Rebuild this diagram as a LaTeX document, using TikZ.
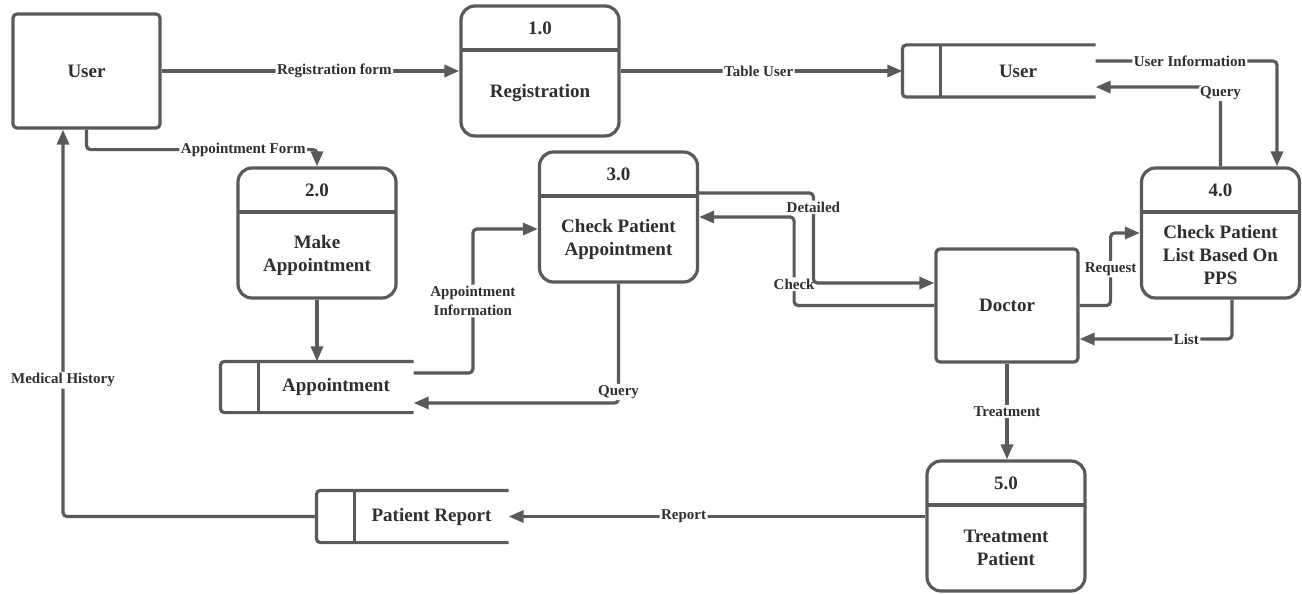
\documentclass[tikz,border=0pt]{standalone}
\usepackage{fontspec}
\setmainfont{Liberation Serif}
\usetikzlibrary{arrows.meta}

\definecolor{linegray}{HTML}{5A5A5A}
\definecolor{inkgray}{HTML}{2F2F2F}

\tikzset{
  outline/.style={draw=linegray, line width=3.2pt},
  proc/.style={outline, rounded corners=14pt, minimum width=158pt, minimum height=130pt, inner sep=0pt},
  entity/.style={outline, rounded corners=4pt, inner sep=0pt, text=inkgray,
                 font=\fontsize{19}{23}\selectfont\bfseries},
  ghost/.style={inner sep=0pt, outer sep=1.6pt},
  main/.style={font=\fontsize{19}{23}\selectfont\bfseries, text=inkgray, align=center, inner sep=0pt},
  lbl/.style={font=\fontsize{15}{19}\selectfont\bfseries, text=inkgray, fill=white, inner sep=1.5pt, align=center},
  flow/.style={draw=linegray, line width=3.2pt, rounded corners=4pt,
               -{Triangle[length=15pt,width=12pt]}},
}

% process bubble: name, centre x, top y, number, title
\newcommand\dfdproc[5]{%
  \node[proc] (#1) at (#2,#3+65) {};
  \draw[outline] (#2-79,#3+44) -- (#2+79,#3+44);
  \node[main] (#1-n) at (#2,#3+22) {#4};
  \node[main] (#1-t) at (#2,#3+87) {#5};
}

% open-ended data store: name, centre x, centre y, width, height, title
\newcommand\dfdstore[6]{%
  \node[ghost, minimum width=#4pt, minimum height=#5pt] (#1) at (#2,#3) {};
  \draw[outline, rounded corners=4pt] (#1.north east) -- (#1.north west)
        -- (#1.south west) -- (#1.south east);
  \draw[outline] ([xshift=38pt]#1.north west) -- ([xshift=38pt]#1.south west);
  \node[main] (#1-t) at ([xshift=19pt]#1.center) {#6};
}

\begin{document}
\begin{tikzpicture}[x=1pt,y=-1pt]
\fill[white] (0,0) rectangle (1302,594);
\useasboundingbox (0,0) rectangle (1302,594);

% external entities
\node[entity, minimum width=147pt, minimum height=114pt] (user) at (86.5,71) {User};
\node[entity, minimum width=142pt, minimum height=113pt] (doc) at (1007,305.5) {Doctor};

% processes
\dfdproc{p1}{540}{6}{1.0}{Registration}
\dfdproc{p2}{317}{168}{2.0}{Make\\Appointment}
\dfdproc{p3}{618.5}{152}{3.0}{Check Patient\\Appointment}
\dfdproc{p4}{1220.5}{168}{4.0}{Check Patient\\List Based On\\PPS}
\dfdproc{p5}{1006}{461}{5.0}{Treatment\\Patient}

% data stores
\dfdstore{s1}{999}{71}{190}{49}{User}
\dfdstore{s2}{317}{387}{190}{48}{Appointment}
\dfdstore{s3}{412.5}{516.5}{189}{49}{Patient Report}

% data flows
\draw[flow] (user.east) -- node[lbl, pos=0.58]{Registration form} (p1.west);
\draw[flow] (p1.east) -- node[lbl, pos=0.49]{Table User} (s1.west);
\draw[flow] ([yshift=10pt]s1.east) -| node[lbl, pos=0.26]{User Information} ([xshift=56.5pt]p4.north);
\draw[flow] (p4.north) |- node[lbl, pos=0.5, yshift=-6pt]{Query} ([yshift=-16pt]s1.east);

\draw[flow] (user.south) -- ++(0,20) -| node[lbl, pos=0.34]{Appointment Form} (p2.north);
\draw[flow] (p2.south) -- (s2.north);
\draw[flow] ([yshift=14pt]s2.east) -| node[lbl, pos=0.75]{Appointment\\Information}
            ([xshift=-65pt, yshift=-12pt]p3.west) -- ([yshift=-12pt]p3.west);
\draw[flow] (p3.south) |- node[lbl, pos=0.5, yshift=11pt]{Query} ([yshift=-16pt]s2.east);

\draw[flow] (doc.west) -| node[lbl, pos=0.62]{Check} ([xshift=95pt]p3.east) -- (p3.east);
\draw[flow] ([yshift=24pt]p3.east) -| node[lbl, pos=0.58]{Detailed}
            ([xshift=-121pt, yshift=22.5pt]doc.west) -- ([yshift=22.5pt]doc.west);

\draw[flow] (doc.east) -- ++(31,0) |- node[lbl, pos=0.25]{Request} (p4.west);
\draw[flow] ([xshift=11.5pt]p4.south) |- node[lbl, pos=0.65]{List} ([yshift=-33.5pt]doc.east);

\draw[flow] (doc.south) -- node[lbl]{Treatment} (doc.south |- p5.north);
\draw[flow] (p5.west |- s3.east) -- node[lbl, pos=0.58]{Report} (s3.east);
\draw[flow] (s3.west) -| node[lbl, pos=0.676]{Medical History} ([xshift=-23.5pt]user.south);
\end{tikzpicture}
\end{document}
